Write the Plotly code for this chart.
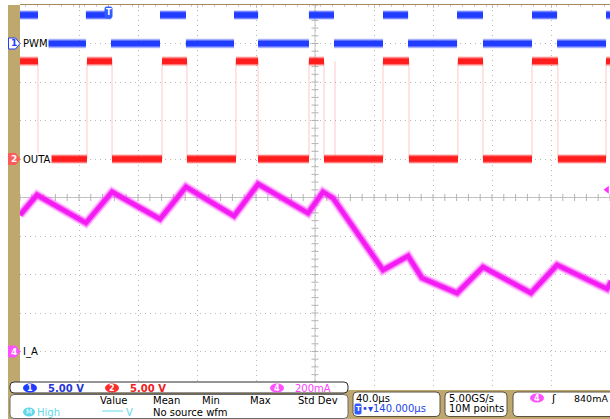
import plotly.graph_objects as go

time_per_div_us = 40.0           # horizontal scale
horiz_delay_us = 140.0           # screen centre relative to trigger
ch1_scale_v, ch1_offset_div = 5.0, 4.0
ch2_scale_v, ch2_offset_div = 5.0, 1.0
ch4_scale_ma, ch4_offset_div = 200.0, -4.0
trigger_level_ma = 840.0

# PWM (ch1): edge times (us), starts high at the left edge
pwm_edges_us = [-47.8, -15.3, 1.7, 34.9, 52.5, 85.1, 101.4, 135.9, 152.9,
                186.1, 203.1, 236.3, 253.9, 287.1, 304.1, 337.3]
pwm_high_v = 3.7
pwm_low_v = 0.0

# OUTA (ch2): edge times (us), starts high at the left edge
outa_edges_us = [-47.8, -14.6, 2.4, 36.3, 53.2, 86.4, 101.4, 135.9, 146.1,
                 186.1, 203.7, 236.9, 253.9, 287.1, 304.7, 337.3]
outa_glitch_us = [153.6]
outa_high_v = 12.7
outa_low_v = 0.0

# I_A (ch4): vertices of the current waveform
ia_time_us = [-60.0, -48.5, -15.3, 2.4, 34.9, 52.5, 85.1, 101.4, 135.3, 145.4,
              152.2, 186.1, 203.1, 212.5, 236.3, 253.9, 286.4, 304.1, 338.0, 341.0]
ia_ma = [709, 813, 668, 829, 688, 855, 704, 870, 719, 829,
         797, 423, 496, 382, 304, 439, 304, 449, 325, 365]

# ---------------- layout geometry ----------------
W, H = 610, 419
PL, PR, PT, PB = 20, 610, 5, 390
DIV_X, DIV_Y = 10, 10
FONT = "DejaVu Sans"
TAN = "#bea86e"
BLUE = "#1f3cff"
RED = "#ff1c1c"
MAG = "#f21cf2"
CYAN = "#5fd8ea"

t_left = horiz_delay_us - DIV_X / 2 * time_per_div_us
t_right = horiz_delay_us + DIV_X / 2 * time_per_div_us


def px(x):
    return (x - PL) / (PR - PL)


def py(y):
    return (PB - y) / (PB - PT)


def yrange(scale, offset):
    return [(-5 - offset) * scale, (5 - offset) * scale]


def square(edges, hi, lo):
    xs, ys = [], []
    b = [t_left] + list(edges) + [t_right]
    state = True
    for a, c in zip(b[:-1], b[1:]):
        lv = hi if state else lo
        xs += [a, c, None]
        ys += [lv, lv, None]
        state = not state
    return xs, ys


def verticals(edges, hi, lo):
    xs, ys = [], []
    for e in edges:
        xs += [e, e, None]
        ys += [lo, hi, None]
    return xs, ys


fig = go.Figure()

# centre-line tick marks (graticule)
hx = [t_left + k * time_per_div_us / 5 for k in range(DIV_X * 5 + 1)]
fig.add_trace(go.Scatter(x=hx, y=[0] * len(hx), mode="markers", yaxis="y",
                         marker=dict(symbol="line-ns", size=5, line=dict(width=1, color="#b4b4b4")),
                         hoverinfo="skip", showlegend=False))
vy = [-5 + k * 0.2 for k in range(DIV_Y * 5 + 1)]
fig.add_trace(go.Scatter(x=[horiz_delay_us] * len(vy), y=vy, mode="markers", yaxis="y",
                         marker=dict(symbol="line-ew", size=5, line=dict(width=1, color="#b4b4b4")),
                         hoverinfo="skip", showlegend=False))

# OUTA faint edges + levels
ex, ey = verticals(outa_edges_us + outa_glitch_us, outa_high_v, outa_low_v)
fig.add_trace(go.Scatter(x=ex, y=ey, yaxis="y3", mode="lines",
                         line=dict(color="rgba(255,120,120,0.4)", width=1),
                         hoverinfo="skip", showlegend=False))
sx, sy = square(outa_edges_us, outa_high_v, outa_low_v)
for w, c in [(10, "rgba(255,60,60,0.2)"), (8, "rgba(255,40,40,0.55)"), (5.5, RED)]:
    fig.add_trace(go.Scatter(x=sx, y=sy, yaxis="y3", mode="lines",
                             line=dict(color=c, width=w), hoverinfo="skip", showlegend=False))

# PWM levels
sx, sy = square(pwm_edges_us, pwm_high_v, pwm_low_v)
for w, c in [(10, "rgba(60,80,255,0.2)"), (8, "rgba(40,60,255,0.55)"), (5.5, BLUE)]:
    fig.add_trace(go.Scatter(x=sx, y=sy, yaxis="y2", mode="lines",
                             line=dict(color=c, width=w), hoverinfo="skip", showlegend=False))

# I_A current
for w, c in [(10, "rgba(255,90,255,0.25)"), (7, "rgba(255,50,255,0.6)"), (4.5, MAG)]:
    fig.add_trace(go.Scatter(x=ia_time_us, y=ia_ma, yaxis="y4", mode="lines",
                             line=dict(color=c, width=w), hoverinfo="skip", showlegend=False))

# expansion point marker (top centre) and trigger level marker (right)
fig.add_trace(go.Scatter(x=[horiz_delay_us], y=[5.05], yaxis="y", mode="markers",
                         marker=dict(symbol="triangle-down", size=8, color="#1a55ff"),
                         cliponaxis=False, hoverinfo="skip", showlegend=False))
fig.add_trace(go.Scatter(x=[t_right - 2], y=[trigger_level_ma], yaxis="y4", mode="markers",
                         marker=dict(symbol="triangle-left", size=7, color="#ff30ff"),
                         cliponaxis=False, hoverinfo="skip", showlegend=False))

shapes = []
annotations = []


def rrect(x0, y0, x1, y1, r, fill, line, lw=1):
    pts = (f"M{px(x0 + r)},{py(y0)} L{px(x1 - r)},{py(y0)} Q{px(x1)},{py(y0)} {px(x1)},{py(y0 + r)} "
           f"L{px(x1)},{py(y1 - r)} Q{px(x1)},{py(y1)} {px(x1 - r)},{py(y1)} "
           f"L{px(x0 + r)},{py(y1)} Q{px(x0)},{py(y1)} {px(x0)},{py(y1 - r)} "
           f"L{px(x0)},{py(y0 + r)} Q{px(x0)},{py(y0)} {px(x0 + r)},{py(y0)} Z")
    shapes.append(dict(type="path", xref="paper", yref="paper", path=pts, fillcolor=fill,
                       line=dict(color=line, width=lw), layer="above"))


def rect(x0, y0, x1, y1, fill):
    shapes.append(dict(type="rect", xref="paper", yref="paper", x0=px(x0), x1=px(x1),
                       y0=py(y1), y1=py(y0), fillcolor=fill, line=dict(width=0), layer="above"))


def ell(x0, y0, x1, y1, fill):
    shapes.append(dict(type="circle", xref="paper", yref="paper", x0=px(x0), x1=px(x1),
                       y0=py(y1), y1=py(y0), fillcolor=fill, line=dict(width=0), layer="above"))


def txt(x, y, s, color="black", size=10, anchor="left", bg=None, weight="normal"):
    d = dict(xref="paper", yref="paper", x=px(x), y=py(y), text=s, showarrow=False,
             xanchor=anchor, yanchor="middle", borderpad=0,
             font=dict(family=FONT, size=size, color=color, weight=weight))
    if bg:
        d["bgcolor"] = bg
    annotations.append(d)


def div_to_py(d):
    return 197.5 - d * (PB - PT) / DIV_Y


# centre cross lines
shapes.append(dict(type="line", xref="x", yref="paper", x0=horiz_delay_us, x1=horiz_delay_us,
                   y0=0, y1=1, line=dict(color="#c4c4c4", width=1), layer="below"))
shapes.append(dict(type="line", xref="paper", yref="y", x0=0, x1=1, y0=0, y1=0,
                   line=dict(color="#c4c4c4", width=1), layer="below"))

# left strip and bottom panel
rect(8, 5, 20, 419, TAN)
rect(8, 390, 612, 419, TAN)
rrect(10, 382, 348, 393, 4, "white", "#2a2a2a")
rrect(10, 394.5, 348, 418.5, 4, "white", "#6a6a6a")
rrect(353, 392, 440, 416.5, 4, "white", "#5a5040")
rrect(445, 392, 507, 416.5, 4, "white", "#5a5040")
rrect(513, 392, 614, 416.5, 4, "white", "#5a5040")

# channel markers on the left
def pent(yc, fill, edge):
    y0, y1 = yc - 5.5, yc + 5.5
    p = (f"M{px(8.5)},{py(y0)} L{px(15.5)},{py(y0)} L{px(20)},{py(yc)} L{px(15.5)},{py(y1)} "
         f"L{px(8.5)},{py(y1)} Z")
    shapes.append(dict(type="path", xref="paper", yref="paper", path=p, fillcolor=fill,
                       line=dict(color=edge, width=1), layer="above"))

y1m = div_to_py(ch1_offset_div)
y2m = div_to_py(ch2_offset_div)
y4m = div_to_py(ch4_offset_div)
pent(y1m, "white", BLUE)
txt(13.5, y1m, "1", BLUE, 9, "center", weight="bold")
pent(y2m, "#ff5a5a", "#ff5a5a")
txt(13.5, y2m, "2", "white", 9, "center", weight="bold")
pent(y4m, "#ff50ff", "#ff50ff")
txt(13.5, y4m, "4", "white", 9, "center", weight="bold")
txt(22, y1m, "PWM", "black", 10, bg="white")
txt(22, y2m, "OUTA", "black", 10, bg="white")
txt(22, y4m, "I_A", "black", 10, bg="white")

# trigger position "T" marker
trig_px = PL + (0 - t_left) / (t_right - t_left) * (PR - PL)
rrect(trig_px - 3.5, 7, trig_px + 3.5, 18, 1.5, "#2f5bff", "#2f5bff")
txt(trig_px, 12.5, "T", "white", 8, "center", weight="bold")

# readouts row 1
ell(23, 383.5, 37, 392.5, BLUE)
txt(30, 388, "1", "white", 8, "center", weight="bold")
txt(47, 388, f"{ch1_scale_v:.2f} V", "#2336d8", 10, weight="bold")
ell(105, 383.5, 119, 392.5, "#ff2a2a")
txt(112, 388, "2", "white", 8, "center", weight="bold")
txt(129, 388, f"{ch2_scale_v:.2f} V", "#f02020", 10, weight="bold")
ell(270, 383.5, 284, 392.5, "#ff50ff")
txt(277, 388, "4", "white", 8, "center", weight="bold")
txt(294, 388, f"{ch4_scale_ma:.0f}mA", "#ff40ff", 10)

# measurement table
for s, xc in [("Value", 114), ("Mean", 166), ("Min", 211), ("Max", 260), ("Std Dev", 318)]:
    txt(xc, 401, s, "black", 10, "center")
ell(23, 407.5, 35, 416.5, CYAN)
txt(29, 412, "M", "white", 7, "center")
txt(36, 412, "High", CYAN, 10)
shapes.append(dict(type="line", xref="paper", yref="paper", x0=px(102), x1=px(123),
                   y0=py(411), y1=py(411), line=dict(color=CYAN, width=1), layer="above"))
txt(125, 412, "V", CYAN, 10)
txt(152, 412, "No source wfm", "black", 10)

# timebase / acquisition / trigger readouts
txt(355, 398, f"{time_per_div_us:.1f}µs", "black", 10)
rrect(355, 404, 361, 414, 1, "#2f5bff", "#2f5bff")
txt(358, 409, "T", "white", 7, "center", weight="bold")
txt(361, 409, f"•▾{horiz_delay_us:.3f}µs", "#2446e6", 10)
txt(448, 398, "5.00GS/s", "black", 10)
txt(448, 409, "10M points", "black", 10)
ell(530, 393.5, 544, 402.5, "#ff50ff")
txt(537, 398, "4", "white", 8, "center", weight="bold")
txt(553, 398, "ʃ", "black", 11, "center")
txt(573, 398, f"{trigger_level_ma:.0f}mA", "black", 9.5)

grid_dash = "1px,4px"
fig.update_layout(
    width=W, height=H,
    margin=dict(l=PL, r=W - PR, t=PT, b=H - PB),
    paper_bgcolor="white", plot_bgcolor="white",
    showlegend=False,
    xaxis=dict(range=[t_left, t_right], tick0=t_left, dtick=time_per_div_us,
               showgrid=True, gridcolor="#b8b8b8", griddash=grid_dash, gridwidth=1,
               zeroline=False, showticklabels=False, side="top",
               showline=True, linecolor="#a88a5a", linewidth=1,
               ticks="inside", ticklen=3, tickcolor="#c0c0c0",
               minor=dict(dtick=time_per_div_us / 5, ticks="inside", ticklen=2, tickcolor="#c8c8c8")),
    yaxis=dict(range=[-5, 5], tick0=-5, dtick=1, showgrid=True, gridcolor="#b8b8b8",
               griddash=grid_dash, gridwidth=1, zeroline=False, showticklabels=False),
    yaxis2=dict(range=yrange(ch1_scale_v, ch1_offset_div), overlaying="y", visible=False),
    yaxis3=dict(range=yrange(ch2_scale_v, ch2_offset_div), overlaying="y", visible=False),
    yaxis4=dict(range=yrange(ch4_scale_ma, ch4_offset_div), overlaying="y", visible=False),
    shapes=shapes,
    annotations=annotations,
)

fig.write_html("out.html", config={"displayModeBar": False},
               post_script="document.body.style.margin='0px';document.body.style.overflow='hidden';")
